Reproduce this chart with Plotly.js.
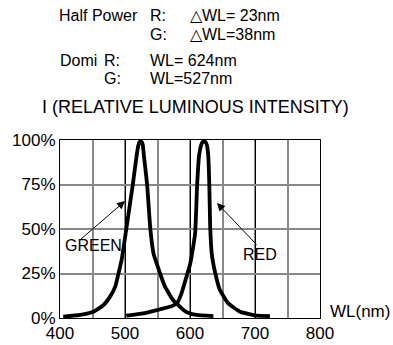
<!DOCTYPE html>
<html>
<head>
<meta charset="utf-8">
<script src="https://cdn.plot.ly/plotly-3.0.1.min.js"></script>
<style>html,body{margin:0;padding:0;background:#fff;}#chart{width:393px;height:345px;}</style>
</head>
<body>
<div id="chart"></div>
<script>
// Wavelength (nm) and relative intensity (%)
const greenWL = [405, 431, 451, 467, 477, 485, 490, 495, 502, 512, 518, 520.5, 522, 524, 526, 527.5, 529, 534, 539, 544, 554, 561.5, 574, 580, 590, 597, 610, 636];
const greenI  = [0.7, 1.7, 3.5, 7.3, 12, 17.6, 25, 33, 50, 75, 91.5, 97, 98.8, 99, 98.8, 97, 91.5, 75, 50, 36, 25, 17.6, 10, 8, 4.5, 3.0, 1.7, 1.1];
const redWL = [502, 528, 554, 569, 580, 587, 592, 596, 600, 604, 608, 611, 614, 617, 619, 621.5, 624, 626, 628, 629.7, 631, 633.5, 639, 646, 659, 677, 702.6, 723];
const redI  = [1.3, 2.6, 4.9, 6.3, 8.3, 14, 20, 25, 30, 38, 48, 75, 91.5, 97, 98.8, 99, 98.8, 97, 91.5, 75, 52, 36, 25, 15.7, 8.2, 3.5, 1.3, 1.1];
const yTicks = [0, 25, 50, 75, 100];
const yTickText = ['0%', '25%', '50%', '75%', '100%'];
const xTicks = [400, 500, 600, 700, 800];

const FONT = 'Liberation Sans, Arial, sans-serif';
const lineStyle = {color: '#000', width: 3.8, shape: 'spline', smoothing: 0.4};

const traces = [
  {x: greenWL, y: greenI, mode: 'lines', line: lineStyle, hoverinfo: 'skip', cliponaxis: false},
  {x: redWL, y: redI, mode: 'lines', line: lineStyle, hoverinfo: 'skip', cliponaxis: false}
];

function txt(text, x, y, size) {
  return {text: text, xref: 'paper', yref: 'paper', x: x, y: y, xanchor: 'left', yanchor: 'middle',
          showarrow: false, font: {family: FONT, size: size || 16, color: '#000'}};
}

const annotations = [
  txt('Half Power', -0.0127, 1.7022),
  txt('R:', 0.3385, 1.7022),
  txt('\u25B3WL= 23nm', 0.4923, 1.7022),
  txt('G:', 0.3385, 1.5927),
  txt('\u25B3WL=38nm', 0.4923, 1.5927),
  txt('Domi', -0.0077, 1.4494),
  txt('R:', 0.1604, 1.4494),
  txt('WL= 624nm', 0.3385, 1.4494),
  txt('G:', 0.1604, 1.3427),
  txt('WL=527nm', 0.3385, 1.3427),
  txt('I (RELATIVE LUMINOUS INTENSITY)', -0.0769, 1.1826, 18),
  txt('WL(nm)', 1.0308, 0.0354, 17),
  {text: 'GREEN', xref: 'x', yref: 'y', x: 404, y: 40.6, xanchor: 'left', yanchor: 'middle', showarrow: false,
   font: {family: FONT, size: 16, color: '#000'}},
  {text: 'RED', xref: 'x', yref: 'y', x: 678, y: 35.4, xanchor: 'left', yanchor: 'middle', showarrow: false,
   font: {family: FONT, size: 16, color: '#000'}},
  {text: '', xref: 'x', yref: 'y', axref: 'x', ayref: 'y', x: 500, y: 65.7, ax: 429, ay: 43.3,
   showarrow: true, arrowhead: 2, arrowsize: 1.6, arrowwidth: 1, arrowcolor: '#000', standoff: 0},
  {text: '', xref: 'x', yref: 'y', axref: 'x', ayref: 'y', x: 641.5, y: 64.6, ax: 704.6, ay: 40.4,
   showarrow: true, arrowhead: 2, arrowsize: 1.6, arrowwidth: 1, arrowcolor: '#000', standoff: 0}
];

const layout = {
  width: 393, height: 345,
  margin: {l: 60, r: 73, t: 140, b: 27, pad: 0},
  paper_bgcolor: '#fff', plot_bgcolor: '#fff',
  showlegend: false,
  font: {family: FONT, size: 17, color: '#000'},
  xaxis: {
    range: [400, 800], tickvals: xTicks, ticks: '', showgrid: true, gridcolor: '#000', gridwidth: 1,
    minor: {dtick: 50, showgrid: true, gridcolor: '#888', gridwidth: 2},
    showline: true, mirror: true, linecolor: '#000', linewidth: 1, zeroline: false,
    tickfont: {family: FONT, size: 17, color: '#000'}, fixedrange: true
  },
  yaxis: {
    range: [0, 100], tickvals: yTicks, ticktext: yTickText, ticks: '', showgrid: true, gridcolor: '#888', gridwidth: 2,
    showline: true, mirror: true, linecolor: '#000', linewidth: 1, zeroline: false,
    tickfont: {family: FONT, size: 17, color: '#000'}, fixedrange: true
  },
  shapes: [
    {type: 'line', xref: 'paper', yref: 'y', x0: 0, x1: 1, y0: 50, y1: 50, layer: 'between',
     line: {color: '#000', width: 1}}
  ],
  annotations: annotations
};

Plotly.newPlot('chart', traces, layout, {staticPlot: true, displayModeBar: false});
</script>
</body>
</html>
